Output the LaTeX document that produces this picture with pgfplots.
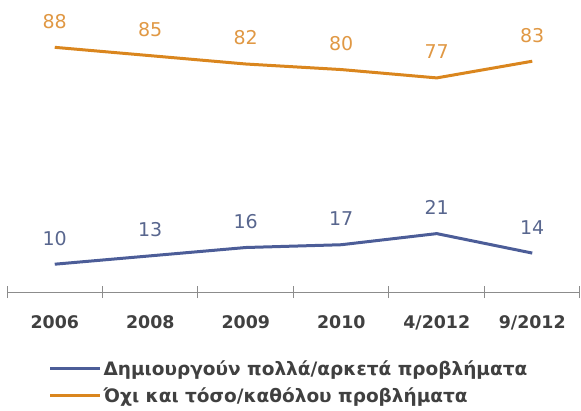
\documentclass[border=0pt]{standalone}
\usepackage{pgfplots}
\pgfplotsset{compat=1.18}
\usepackage{fontspec}
\setmainfont{DejaVu Sans}
\definecolor{orL}{RGB}{218,134,30}
\definecolor{orT}{RGB}{224,152,68}
\definecolor{blL}{RGB}{76,93,152}
\definecolor{blT}{RGB}{88,102,142}
\definecolor{axG}{RGB}{140,140,140}
\definecolor{tkT}{RGB}{64,64,64}
\begin{document}
\begin{tikzpicture}
\useasboundingbox (0,0) rectangle (581pt,410pt);
\begin{axis}[
  at={(7pt,118pt)}, anchor=south west,
  scale only axis, width=573pt, height=290pt,
  xmin=0, xmax=6, ymin=0, ymax=104.3,
  axis x line*=bottom, axis y line=none,
  axis line style={draw=axG, line width=1pt},
  xtick={0.5,1.5,2.5,3.5,4.5,5.5},
  xticklabels={2006,2008,2009,2010,4/2012,9/2012},
  major tick length=0pt,
  minor xtick={0,1,2,3,4,5,6},
  minor tick length=12pt, tick align=center,
  tick style={draw=axG, line width=1pt},
  x tick label style={font=\fontsize{17.4}{20}\selectfont\bfseries, text=tkT, yshift=-20pt},
  /pgf/number format/assume math mode=true,
  clip=false,
  legend style={at={(0.067,-0.221)}, anchor=north west, draw=none, fill=none,
    font=\fontsize{18.5}{20}\selectfont\bfseries, text=tkT, row sep=7pt,
    nodes={inner sep=2pt}},
  legend cell align=left,
  legend image code/.code={\draw[#1] (0pt,0pt) -- (50pt,0pt);},
  every axis plot/.append style={line width=3pt, mark=none},
  nodes near coords,
  every node near coord/.append style={anchor=center, yshift=26pt, font=\fontsize{19}{20}\selectfont},
]
\addplot[color=blL, every node near coord/.append style={text=blT}] coordinates {
  (0.5,10) (1.5,13) (2.5,16) (3.5,17) (4.5,21) (5.5,14)};
\addlegendentry{Δημιουργούν πολλά/αρκετά προβλήματα}
\addplot[color=orL, every node near coord/.append style={text=orT}] coordinates {
  (0.5,88) (1.5,85) (2.5,82) (3.5,80) (4.5,77) (5.5,83)};
\addlegendentry{Όχι και τόσο/καθόλου προβλήματα}
\end{axis}
\end{tikzpicture}
\end{document}
